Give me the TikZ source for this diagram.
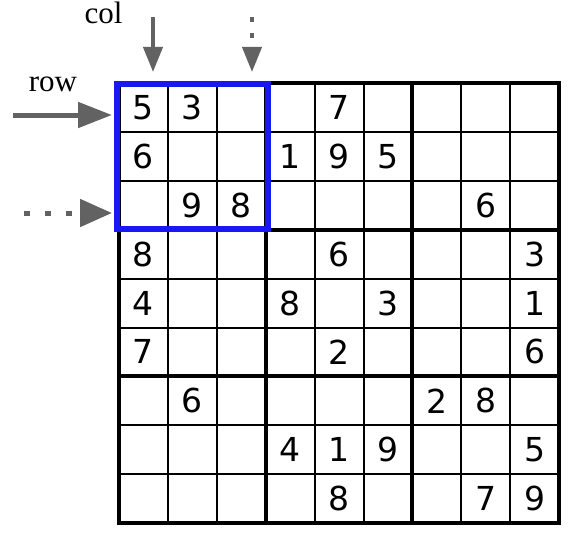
\documentclass[tikz,border=0pt]{standalone}
\usepackage{fontspec}
\usetikzlibrary{positioning,calc,arrows.meta}
\newfontfamily\digitfont{DejaVu Sans}
\newfontfamily\labelfont{Liberation Serif}
\definecolor{boxblue}{RGB}{24,24,240}
\definecolor{arrowgray}{RGB}{98,98,98}
\newcommand*{\lbl}[1]{\labelfont\fontsize{31}{31}\selectfont #1}

\begin{document}
\begin{tikzpicture}[x=1pt,y=-1pt,
  thin line/.style={line width=2pt},
  thick line/.style={line width=4pt,line cap=rect},
  digit/.style={font=\digitfont\fontsize{33}{33}\selectfont,inner sep=0pt},
  pointer/.style={arrowgray}]
\useasboundingbox (0,0) rectangle (577,551);
% Cell size, board goes from (tl) to (br)
\def\cs{48.9}
\coordinate (tl) at (119,83);
\coordinate (br) at (119+9*\cs,83+9*\cs);
% Thin lines between the cells
\foreach \i in {1,2,4,5,7,8} {
  \draw[thin line] (119+\i*\cs,83) -- (119+\i*\cs,83+9*\cs);
  \draw[thin line] (119,83+\i*\cs) -- (119+9*\cs,83+\i*\cs);
}
% Thick lines between the blocks, and the border
\foreach \i in {3,6} {
  \draw[thick line] (119+\i*\cs,83) -- (119+\i*\cs,83+9*\cs);
  \draw[thick line] (119,83+\i*\cs) -- (119+9*\cs,83+\i*\cs);
}
\draw[thick line] (tl) rectangle (br);
% Given digits as row/column/value
\foreach \r/\c/\v in {1/1/5,1/2/3,1/5/7,
    2/1/6,2/4/1,2/5/9,2/6/5,
    3/2/9,3/3/8,3/8/6,
    4/1/8,4/5/6,4/9/3,
    5/1/4,5/4/8,5/6/3,5/9/1,
    6/1/7,6/5/2,6/9/6,
    7/2/6,7/7/2,7/8/8,
    8/4/4,8/5/1,8/6/9,8/9/5,
    9/5/8,9/8/7,9/9/9}
  \node[digit] (d\r\c) at (119+\c*\cs-0.5*\cs,83+\r*\cs-0.5*\cs) {\v};
% Blue box round the first block
\draw[boxblue,line width=6pt] (116.5,84) rectangle (268,229);
% Labels
\node[anchor=base] (col) at (103.5,24) {\lbl{col}};
\node[anchor=base] (row) at (53,91) {\lbl{row}};
% Arrows pointing at the first row and column
\coordinate (c1) at (153,17);
\coordinate (c1 tip) at (153,72);
\coordinate (c3) at (252,17);
\coordinate (c3 tip) at (252,72);
\coordinate (r1) at (13,115);
\coordinate (r1 tip) at (112,115);
\coordinate (r3) at (24,213);
\coordinate (r3 tip) at (112,213);
\draw[pointer,line width=4pt,-{Triangle[length=25pt,width=19pt]}] (c1) -- (c1 tip);
\draw[pointer,line width=4pt,dash pattern=on 5pt off 11pt,
  -{Triangle[length=25pt,width=19pt]}] (c3) -- (c3 tip);
\draw[pointer,line width=5pt,-{Triangle[length=34pt,width=25pt]}] (r1) -- (r1 tip);
\draw[pointer,line width=5pt,dash pattern=on 6pt off 15pt,
  -{Triangle[length=32pt,width=27pt]}] (r3) -- (r3 tip);
\end{tikzpicture}
\end{document}
